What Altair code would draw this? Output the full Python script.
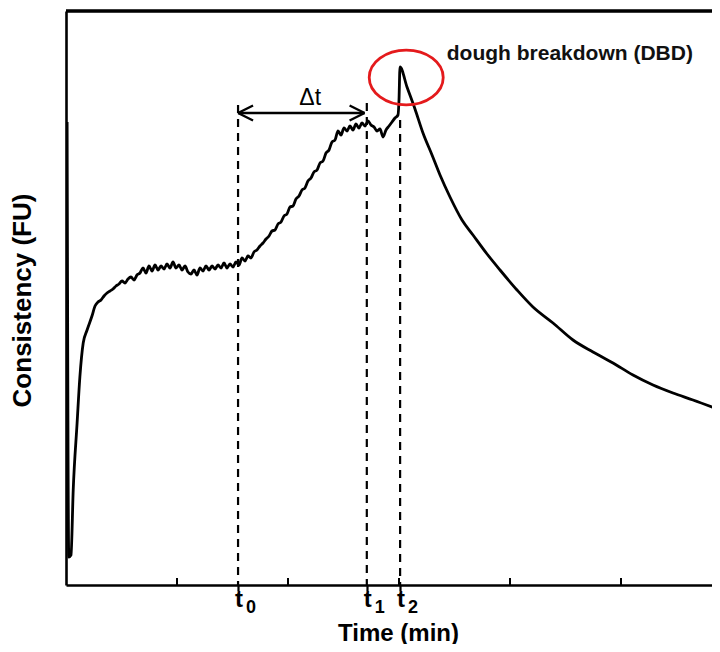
import altair as alt
import pandas as pd

# ---- data ----
time_min = [0.02, 0.05, 0.09, 0.13, 0.20, 0.25, 0.31, 0.38,
            0.468, 0.523, 0.577, 0.631, 0.685, 0.739, 0.793, 0.847, 0.901, 0.955,
            1.009, 1.063, 1.117, 1.171, 1.225, 1.279, 1.333, 1.387, 1.441, 1.495,
            1.550, 1.604, 1.658, 1.712, 1.766, 1.820, 1.874, 1.928, 1.982, 2.036,
            2.090, 2.144, 2.198, 2.252, 2.306, 2.360, 2.414, 2.468, 2.523, 2.577,
            2.631, 2.685, 2.739, 2.793, 2.847, 2.901, 2.955, 3.009, 3.063, 3.117,
            3.171, 3.225, 3.279, 3.333, 3.387, 3.441, 3.495, 3.550, 3.604, 3.658,
            3.712, 3.766, 3.820, 3.874, 3.928, 3.982, 4.036, 4.090, 4.144, 4.198,
            4.252, 4.306, 4.360, 4.414, 4.468, 4.523, 4.577, 4.631, 4.685, 4.739,
            4.793, 4.847, 4.901, 4.955, 5.009, 5.063, 5.117, 5.171, 5.225, 5.279,
            5.333, 5.387, 5.441, 5.495, 5.550, 5.604, 5.658, 5.712, 5.766, 5.820,
            5.874, 5.928, 5.982, 6.000,
            6.018, 6.144, 6.288, 6.432, 6.595, 6.739, 6.919, 7.135, 7.333, 7.586,
            7.820, 8.126, 8.414, 8.775, 9.135, 9.495, 9.856, 10.216, 10.577, 10.937,
            11.297, 11.784]
consistency_fu = [463, 28, 30, 95, 162, 208, 242, 255,
                  269, 279, 283, 285, 289, 292, 294, 296, 299, 301,
                  304, 302, 306, 308, 305, 310, 312, 317, 312, 319,
                  314, 320, 315, 319, 316, 321, 317, 323, 317, 320,
                  315, 319, 313, 311, 315, 310, 317, 314, 319, 315,
                  319, 316, 320, 317, 322, 317, 321, 318, 323, 320,
                  327, 324, 329, 327, 333, 335, 339, 342, 346, 349,
                  354, 355, 361, 363, 369, 371, 378, 379, 386, 389,
                  395, 397, 404, 407, 413, 415, 422, 424, 432, 435,
                  443, 445, 454, 450, 457, 454, 459, 455, 461, 457,
                  462, 459, 464, 460, 458, 454, 456, 448, 455, 459,
                  463, 467, 470, 485,
                  518, 498, 476, 452, 430, 410, 388, 365, 350, 331,
                  315, 295, 278, 262, 245, 233, 222, 210, 200, 192,
                  185, 175]

t_names = ["0", "1", "2"]
t_values = [3.10, 5.42, 6.02]
t_line_top = [480, 482, 465]

minor_ticks = [2, 4, 6, 8, 10]

arrow_from = 3.10
arrow_to = 5.38
arrow_level = 472

delta_label = "\u0394t"
delta_pos = (4.40, 480)

dbd_label = "dough breakdown (DBD)"
dbd_pos = (6.86, 525)
dbd_circle = (6.13, 507.5)

W, H = 646, 574
X_MAX = W / 55.5
Y_MAX = 574
FONT = "Liberation Sans"

curve = pd.DataFrame({"time": time_min, "fu": consistency_fu})
tdf = pd.DataFrame({"name": t_names, "time": t_values, "top": t_line_top})
minor = pd.DataFrame({"time": minor_ticks})

xs = alt.Scale(domain=[0, X_MAX], nice=False, zero=False)
ys = alt.Scale(domain=[0, Y_MAX], nice=False, zero=False)

base_x = alt.X("time:Q", scale=xs, axis=alt.Axis(
    values=t_values, labels=False, ticks=True, tickSize=6, tickWidth=2.2,
    tickColor="black", domainColor="black", domainWidth=2.6, grid=False,
    title="Time (min)", titleFont=FONT, titleFontSize=24, titleFontWeight="bold",
    titleColor="black", titleBaseline="alphabetic", titleY=55, titleX=332))
base_y = alt.Y("fu:Q", scale=ys, axis=alt.Axis(
    labels=False, ticks=False, grid=False, domainColor="black", domainWidth=2.6,
    title="Consistency (FU)", titleFont=FONT, titleFontSize=26, titleFontWeight="bold",
    titleColor="black", titleAngle=-90, titleBaseline="alphabetic", titleX=-36, titleY=289))

line = alt.Chart(curve).mark_line(color="black", strokeWidth=2.8, clip=True,
                                  interpolate="monotone").encode(x=base_x, y=base_y)

top_rule = alt.Chart(minor).mark_rule(color="black", strokeWidth=2.6).encode(
    x=alt.value(0), x2=alt.value(W), y=alt.value(0))

minor_rules = alt.Chart(minor).mark_rule(color="black", strokeWidth=2).encode(
    x=alt.X("time:Q", scale=xs), y=alt.value(H), y2=alt.value(H - 7))

dashes = alt.Chart(tdf).mark_rule(color="black", strokeWidth=2.2, strokeDash=[8, 6]).encode(
    x=alt.X("time:Q", scale=xs), y=alt.Y("top:Q", scale=ys), y2=alt.value(H))

t_text = alt.Chart(tdf).mark_text(font=FONT, fontSize=24, fontWeight="bold", align="left",
                                  baseline="alphabetic", dx=-3, color="black").encode(
    x=alt.X("time:Q", scale=xs), y=alt.value(596), text=alt.value("t"))
t_sub = alt.Chart(tdf).mark_text(font=FONT, fontSize=18, fontWeight="bold", align="left",
                                 baseline="alphabetic", dx=8, color="black").encode(
    x=alt.X("time:Q", scale=xs), y=alt.value(602), text="name:N")

arrow_df = pd.DataFrame({"x1": [arrow_from], "x2": [arrow_to], "y": [arrow_level]})
arrow_line = alt.Chart(arrow_df).mark_rule(color="black", strokeWidth=2.4).encode(
    x=alt.X("x1:Q", scale=xs), x2="x2:Q", y=alt.Y("y:Q", scale=ys))
left_head = alt.Chart(arrow_df).mark_point(
    shape="M0,0L2,-1M0,0L2,1", size=225, filled=False, color="black", strokeWidth=2.4, opacity=1).encode(
    x=alt.X("x1:Q", scale=xs), y=alt.Y("y:Q", scale=ys))
right_head = alt.Chart(arrow_df).mark_point(
    shape="M0,0L-2,-1M0,0L-2,1", size=225, filled=False, color="black", strokeWidth=2.4, opacity=1).encode(
    x=alt.X("x2:Q", scale=xs), y=alt.Y("y:Q", scale=ys))

ann = pd.DataFrame({"x": [delta_pos[0]], "y": [delta_pos[1]], "label": [delta_label]})
delta_text = alt.Chart(ann).mark_text(font=FONT, fontSize=23, align="center",
                                      baseline="alphabetic", color="black").encode(
    x=alt.X("x:Q", scale=xs), y=alt.Y("y:Q", scale=ys), text="label:N")

dbd = pd.DataFrame({"x": [dbd_pos[0]], "y": [dbd_pos[1]], "label": [dbd_label],
                    "cx": [dbd_circle[0]], "cy": [dbd_circle[1]]})
dbd_text = alt.Chart(dbd).mark_text(font=FONT, fontSize=21, fontWeight="bold", align="left",
                                    baseline="alphabetic", color="#111111").encode(
    x=alt.X("x:Q", scale=xs), y=alt.Y("y:Q", scale=ys), text="label:N")
ellipse = alt.Chart(dbd).mark_point(
    shape="M-1,0A1,0.74 0 1,1 1,0A1,0.74 0 1,1 -1,0Z", size=5476, filled=False,
    color="#e41a1c", strokeWidth=2.8, opacity=1).encode(
    x=alt.X("cx:Q", scale=xs), y=alt.Y("cy:Q", scale=ys))

chart = alt.layer(
    dashes, minor_rules, top_rule, line, arrow_line, left_head, right_head,
    delta_text, dbd_text, ellipse, t_text, t_sub
).properties(
    width=W, height=H,
    autosize=alt.AutoSizeParams(type="none"),
    padding={"left": 58, "top": 3, "right": 0, "bottom": 59},
).configure_view(stroke=None).configure(background="white")

chart.save("out.html", embed_options={"renderer": "svg", "actions": False})
